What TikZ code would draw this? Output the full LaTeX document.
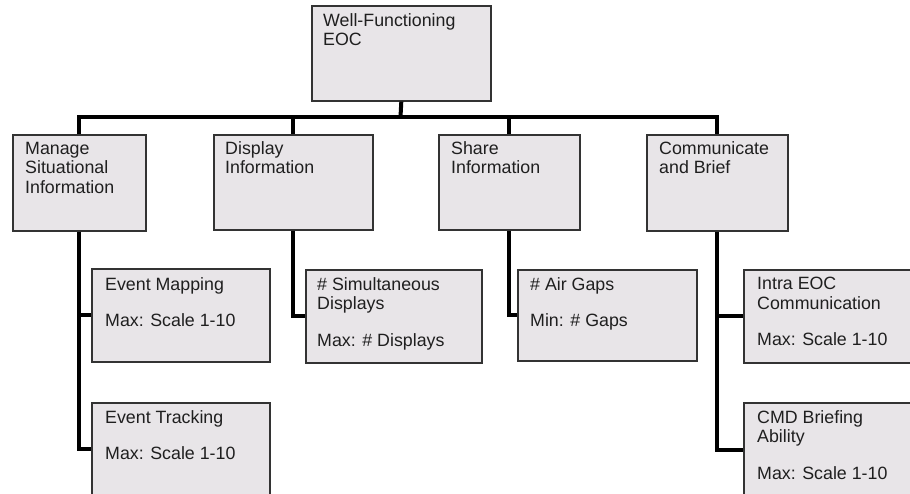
\documentclass[tikz,border=0pt]{standalone}
\usepackage{fontspec}
\setmainfont{Liberation Sans}
\definecolor{boxfill}{HTML}{E8E5E8}
\definecolor{boxline}{HTML}{333333}
\tikzset{
 box/.style={draw=boxline, line width=1.6pt, fill=boxfill, anchor=north west, inner sep=0pt},
 txt/.style={anchor=north west, inner sep=0pt, align=left, font=\fontsize{17.8}{19.5}\selectfont, text=black!88},
 conn/.style={draw=black, line width=4pt},
}
\begin{document}
\begin{tikzpicture}[x=1pt,y=-1pt]
\useasboundingbox (0,0) rectangle (910,493);
\clip (0,0) rectangle (910,493);
% boxes
\node[box, minimum width=179, minimum height=95] (top) at (311,5) {};
\node[box, minimum width=133, minimum height=96] (m1) at (12,134) {};
\node[box, minimum width=159, minimum height=95] (m2) at (213,134) {};
\node[box, minimum width=141, minimum height=95] (m3) at (438,134) {};
\node[box, minimum width=141, minimum height=96] (m4) at (646,134) {};
\node[box, minimum width=178, minimum height=93] (c1a) at (91,268) {};
\node[box, minimum width=178, minimum height=92] (c1b) at (91,402) {};
\node[box, minimum width=176, minimum height=93] (c2) at (305,269) {};
\node[box, minimum width=179, minimum height=91] (c3) at (517,269) {};
\node[box, minimum width=180, minimum height=93] (c4a) at (743,269) {};
\node[box, minimum width=180, minimum height=94] (c4b) at (743,402) {};
% texts
\node[txt] (ttop) at ([xshift=12pt,yshift=-8pt]top.north west) {Well-Functioning\\EOC};
\node[txt] (tm1) at ([xshift=13pt,yshift=-8pt]m1.north west) {Manage\\Situational\\Information};
\node[txt] (tm2) at ([xshift=12pt,yshift=-7pt]m2.north west) {Display\\Information};
\node[txt] (tm3) at ([xshift=13pt,yshift=-7pt]m3.north west) {Share\\Information};
\node[txt] (tm4) at ([xshift=13pt,yshift=-7pt]m4.north west) {Communicate\\and Brief};
\node[txt] (tc1a) at ([xshift=14pt,yshift=-9pt]c1a.north west) {Event Mapping\\[17pt]Max: Scale 1-10};
\node[txt] (tc1b) at ([xshift=14pt,yshift=-8pt]c1b.north west) {Event Tracking\\[17pt]Max: Scale 1-10};
\node[txt] (tc2) at ([xshift=12pt,yshift=-8pt]c2.north west) {\# Simultaneous\\Displays\\[17pt]Max: \# Displays};
\node[txt] (tc3) at ([xshift=13pt,yshift=-8pt]c3.north west) {\# Air Gaps\\[17pt]Min: \# Gaps};
\node[txt] (tc4a) at ([xshift=14pt,yshift=-8pt]c4a.north west) {Intra EOC\\Communication\\[17pt]Max: Scale 1-10};
\node[txt] (tc4b) at ([xshift=14pt,yshift=-8pt]c4b.north west) {CMD Briefing\\Ability\\[17pt]Max: Scale 1-10};
% connectors
\coordinate (bus) at (400.5,117);
\draw[conn] (top.south) -- (bus);
\draw[conn] (m1.north) |- (bus) -| (m4.north);
\draw[conn] (m2.north) -- (m2.north |- bus);
\draw[conn] (m3.north) -- (m3.north |- bus);
\draw[conn] (m1.south) |- (c1b.west);
\draw[conn] (m1.south |- c1a.west) -- (c1a.west);
\draw[conn] (m2.south) |- (c2.west);
\draw[conn] (m3.south) |- (c3.west);
\draw[conn] (m4.south) |- (c4b.west);
\draw[conn] (m4.south |- c4a.west) -- (c4a.west);
\end{tikzpicture}
\end{document}
